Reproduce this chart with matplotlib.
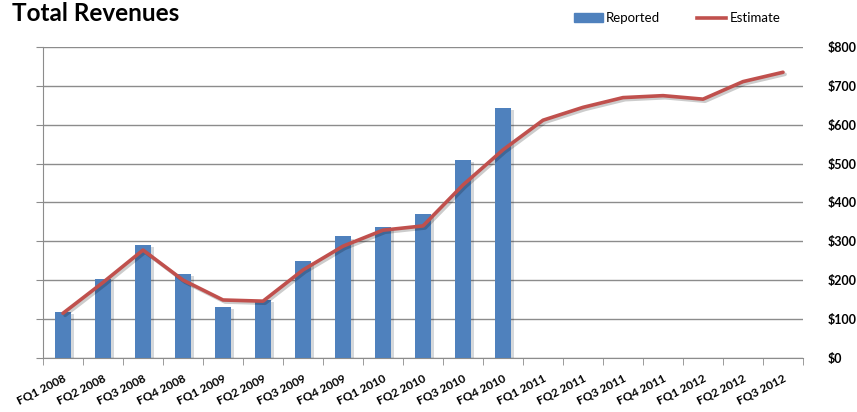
import numpy as np
import matplotlib.pyplot as plt
import matplotlib.patheffects as pe
from matplotlib.patches import Patch
from matplotlib.lines import Line2D

plt.rcParams['font.family'] = ['Lato', 'DejaVu Sans']

quarters = ['FQ1 2008', 'FQ2 2008', 'FQ3 2008', 'FQ4 2008',
            'FQ1 2009', 'FQ2 2009', 'FQ3 2009', 'FQ4 2009',
            'FQ1 2010', 'FQ2 2010', 'FQ3 2010', 'FQ4 2010',
            'FQ1 2011', 'FQ2 2011', 'FQ3 2011', 'FQ4 2011',
            'FQ1 2012', 'FQ2 2012', 'FQ3 2012']
reported = [119, 204, 290, 216, 132, 149, 250, 313, 336, 371, 509, 642]
estimate = [116, 195, 278, 201, 150, 147, 227, 288, 329, 340, 445, 535,
            611, 644, 669, 674, 665, 710, 734]
yticks = [0, 100, 200, 300, 400, 500, 600, 700, 800]

blue = '#4f81bd'
red = '#c0504d'
grid = '#8c8c8c'

fig = plt.figure(figsize=(8.57, 4.12), dpi=100)
ax = fig.add_axes([0.0502, 0.1299, 0.8868, 0.7572])

x = np.arange(len(quarters))
shadow = [pe.SimplePatchShadow(offset=(2.5, -1.5), alpha=0.18), pe.Normal()]
ax.bar(x[:len(reported)], reported, width=0.4, color=blue, zorder=3,
       path_effects=shadow)
ax.plot(x, estimate, color=red, lw=2.6, zorder=4, solid_capstyle='round',
        path_effects=[pe.SimpleLineShadow(offset=(1.5, -1.5), alpha=0.2), pe.Normal()])

ax.set_xlim(-0.5, len(quarters) - 0.5)
ax.set_ylim(0, 800)
ax.set_yticks(yticks)
ax.yaxis.grid(True, color=grid, lw=1, zorder=0)
ax.set_axisbelow(True)

# y labels on the right, tick marks on the left spine
ax.tick_params(axis='y', which='both', left=True, right=False, labelleft=False,
               labelright=True, length=5, color=grid, pad=13)
ax.set_yticklabels(['$' + str(v) for v in yticks], fontsize=9, fontweight='bold')

ax.set_xticks(x)
ax.set_xticklabels(quarters, rotation=27, ha='right', rotation_mode='anchor',
                   fontsize=8.5, fontweight='bold')
ax.tick_params(axis='x', which='major', length=0, pad=10)
ax.set_xticks(np.arange(-0.5, len(quarters), 1), minor=True)
ax.tick_params(axis='x', which='minor', length=5, color=grid)

for s in ['top', 'right']:
    ax.spines[s].set_visible(False)
ax.spines['left'].set_color(grid)
ax.spines['bottom'].set_color(grid)

fig.text(0.014, 0.948, 'Total Revenues', fontsize=17.5, fontweight='bold',
         va='baseline')

handles = [Patch(color=blue, label='Reported'),
           Line2D([0], [0], color=red, lw=2.6, label='Estimate')]
fig.legend(handles=handles, loc='center', bbox_to_anchor=(0.79, 0.956), ncol=2,
           frameon=False, fontsize=9.5, handlelength=2.2, handletextpad=0.25,
           columnspacing=2.8)

fig.savefig('out.png', dpi=100)
